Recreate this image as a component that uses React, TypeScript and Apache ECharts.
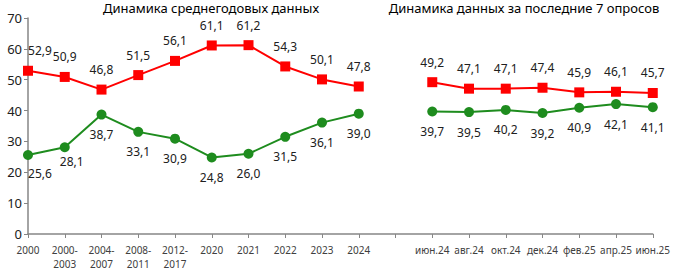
import React, { useEffect, useRef } from "react";
import * as echarts from "echarts";

const categories = [
  "2000", "2000-\n2003", "2004-\n2007", "2008-\n2011", "2012-\n2017",
  "2020", "2021", "2022", "2023", "2024", "",
  "июн.24", "авг.24", "окт.24", "дек.24", "фев.25", "апр.25", "июн.25",
];
const redValues = [52.9, 50.9, 46.8, 51.5, 56.1, 61.1, 61.2, 54.3, 50.1, 47.8, null, 49.2, 47.1, 47.1, 47.4, 45.9, 46.1, 45.7];
const greenValues = [25.6, 28.1, 38.7, 33.1, 30.9, 24.8, 26.0, 31.5, 36.1, 39.0, null, 39.7, 39.5, 40.2, 39.2, 40.9, 42.1, 41.1];
const titleLeft = "Динамика среднегодовых данных";
const titleRight = "Динамика данных за последние 7 опросов";

const FONT = "Noto Sans";
const fmt = (p: any) => (p.value == null ? "" : Number(p.value).toFixed(1).replace(".", ","));

export default function App() {
  const ref = useRef<HTMLDivElement>(null);
  useEffect(() => {
    const chart = echarts.init(ref.current!, null, { renderer: "svg" });
    const redData = redValues.map((v, i) => {
      if (i === 0) return { value: v, label: { offset: [12, 0] } };
      return v;
    });
    const greenData = greenValues.map((v, i) => {
      if (i === 0) return { value: v, label: { offset: [12, -2] } };
      if (i === 1) return { value: v, label: { offset: [7, -6] } };
      return v;
    });
    chart.setOption({
      animation: false,
      textStyle: { fontFamily: FONT },
      title: [
        { text: titleLeft, left: 211, top: 0, padding: 0, textAlign: "center", textStyle: { fontFamily: FONT, fontSize: 13, fontWeight: "normal", color: "#000", lineHeight: 16 } },
        { text: titleRight, left: 524, top: 0, padding: 0, textAlign: "center", textStyle: { fontFamily: FONT, fontSize: 13, fontWeight: "normal", color: "#000", lineHeight: 16 } },
      ],
      grid: { left: 28, right: 17, top: 18, bottom: 32, containLabel: false },
      xAxis: {
        type: "category",
        data: categories,
        boundaryGap: false,
        axisLine: { lineStyle: { color: "#868686", width: 1.5 } },
        axisTick: { show: true, alignWithLabel: true, length: 4, lineStyle: { color: "#868686" } },
        axisLabel: { interval: 0, fontFamily: FONT, fontSize: 10, color: "#404040", lineHeight: 14, margin: 9 },
        splitLine: { show: false },
      },
      yAxis: {
        type: "value",
        min: 0,
        max: 70,
        interval: 10,
        axisLine: { show: true, lineStyle: { color: "#868686", width: 1.5 } },
        axisTick: { show: true, length: 4, lineStyle: { color: "#868686" } },
        axisLabel: { fontFamily: FONT, fontSize: 13, color: "#202020", margin: 6 },
        splitLine: { show: false },
      },
      series: [
        {
          type: "line",
          data: redData,
          connectNulls: false,
          symbol: "rect",
          symbolSize: 10,
          itemStyle: { color: "#FF0000" },
          lineStyle: { color: "#FF0000", width: 2 },
          label: { show: true, position: "top", distance: 9, formatter: fmt, fontFamily: FONT, fontSize: 12, color: "#202020" },
        },
        {
          type: "line",
          data: greenData,
          connectNulls: false,
          symbol: "circle",
          symbolSize: 10,
          itemStyle: { color: "#1E8C1E" },
          lineStyle: { color: "#1E8C1E", width: 2 },
          label: { show: true, position: "bottom", distance: 9, formatter: fmt, fontFamily: FONT, fontSize: 12, color: "#202020" },
        },
      ],
    });
    return () => chart.dispose();
  }, []);
  return <div ref={ref} style={{ width: 673, height: 271, position: "absolute", left: 0, top: 0 }} />;
}
